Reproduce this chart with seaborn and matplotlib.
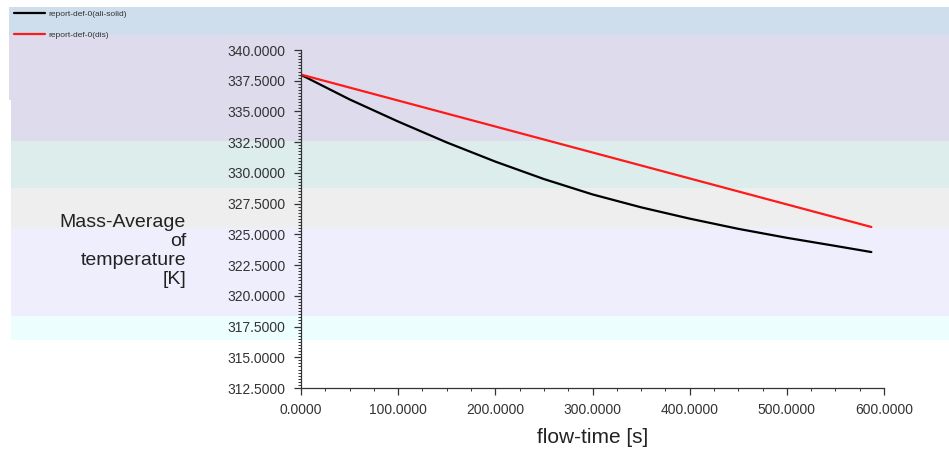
import matplotlib
matplotlib.use("Agg")
import matplotlib.pyplot as plt
import matplotlib.ticker as mticker
from matplotlib.patches import Rectangle
import pandas as pd
import seaborn as sns

# values
ali_time = [0, 50, 100, 150, 200, 250, 300, 350, 400, 450, 500, 550, 587]
ali_temp = [337.98, 335.98, 334.18, 332.48, 330.92, 329.5, 328.25, 327.2, 326.28,
            325.45, 324.72, 324.06, 323.56]
dis_time = [0, 587]
dis_temp = [338.0, 325.6]
series_names = ["report-def-0(ali-solid)", "report-def-0(dis)"]
series_colors = ["black", "#ff1a1a"]

df = pd.concat([
    pd.DataFrame({"flow_time": ali_time, "temperature": ali_temp, "series": series_names[0]}),
    pd.DataFrame({"flow_time": dis_time, "temperature": dis_temp, "series": series_names[1]}),
])

sns.set_style("ticks")
plt.rcParams["font.family"] = ["Liberation Sans", "DejaVu Sans"]

W, H = 949, 453
fig = plt.figure(figsize=(W / 100, H / 100), dpi=100)

# coloured background bands of the screenshot (pixel rows)
bands = [
    (9, 7, 35, "#cedeed"),
    (9, 35, 100, "#dedcec"),
    (11, 100, 141, "#dedcec"),
    (11, 141, 188, "#dcedec"),
    (11, 188, 228, "#eeeeee"),
    (11, 228, 316, "#efeefc"),
    (11, 316, 340, "#edfefe"),
]
for x0, y0, y1, col in bands:
    fig.patches.append(Rectangle((x0 / W, 1 - y1 / H), 1 - x0 / W, (y1 - y0) / H,
                                 transform=fig.transFigure, facecolor=col,
                                 edgecolor="none", zorder=-10))

ax = fig.add_axes([301 / W, 1 - 388 / H, (884 - 301) / W, (388 - 50) / H])
ax.set_facecolor("none")

sns.lineplot(data=df, x="flow_time", y="temperature", hue="series",
             palette=dict(zip(series_names, series_colors)), linewidth=1.6,
             ax=ax, sort=False)

ax.set_xlim(0, 600)
ax.set_ylim(312.5, 340)
ax.xaxis.set_major_locator(mticker.MultipleLocator(100))
ax.xaxis.set_minor_locator(mticker.MultipleLocator(25))
ax.yaxis.set_major_locator(mticker.MultipleLocator(2.5))
ax.yaxis.set_minor_locator(mticker.MultipleLocator(0.25))
ax.xaxis.set_major_formatter(mticker.FormatStrFormatter("%.4f"))
ax.yaxis.set_major_formatter(mticker.FormatStrFormatter("%.4f"))
ax.tick_params(axis="both", which="major", length=5, width=0.9, color="#333333",
               labelsize=10, labelcolor="#333333", pad=6)
ax.tick_params(axis="both", which="minor", length=2.5, width=0.7, color="#333333")
for side in ["top", "right"]:
    ax.spines[side].set_visible(False)
for side in ["left", "bottom"]:
    ax.spines[side].set_color("#333333")
    ax.spines[side].set_linewidth(0.9)

ax.set_xlabel("flow-time [s]", fontsize=15, color="#222222", labelpad=8)
ax.set_ylabel("")
fig.text(186 / W, 1 - 251 / H, "Mass-Average\nof\ntemperature\n[K]", ha="right",
         va="center", multialignment="right", fontsize=14, color="#222222",
         linespacing=1.15)

handles, labels = ax.get_legend_handles_labels()
ax.legend(handles, labels, loc="upper left", bbox_to_anchor=(14 / W, 1 - 10 / H),
          bbox_transform=fig.transFigure, frameon=False, fontsize=6,
          borderpad=0, borderaxespad=0, handlelength=3.7, handletextpad=0.4,
          labelspacing=1.6, labelcolor="#333333")

fig.savefig("out.png", dpi=100)
plt.close(fig)
